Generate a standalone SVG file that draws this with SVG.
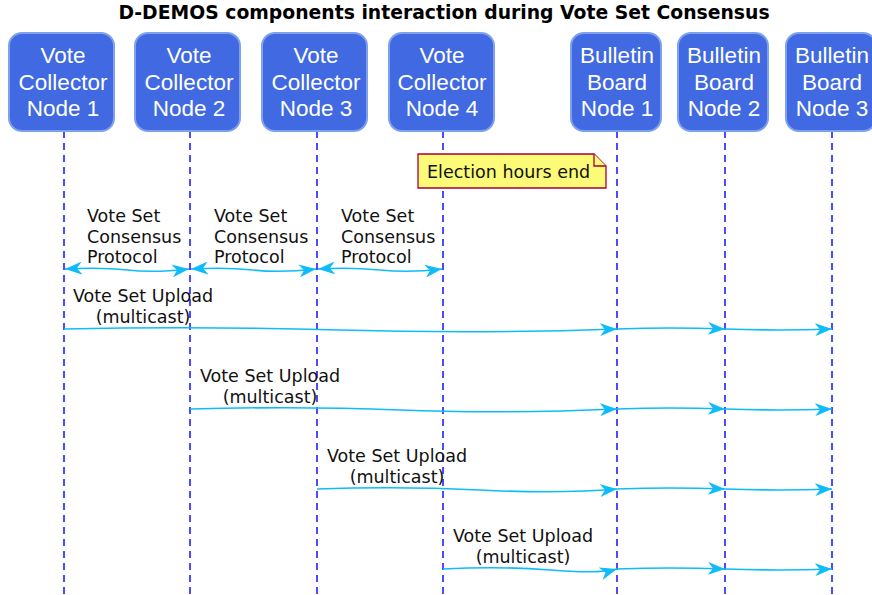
<svg xmlns="http://www.w3.org/2000/svg" width="872" height="595" viewBox="0 0 872 595">
<style>
.title{font-family:"DejaVu Sans",sans-serif;font-weight:bold;font-size:18.8px;fill:#000}
.box{fill:#4169E1;stroke:#7FA0EE;stroke-width:2}
.bt{font-family:"Liberation Sans",Arial,sans-serif;font-size:22.5px;fill:#fff;text-anchor:middle}
.life{stroke:#0000FF;stroke-width:1.4;stroke-dasharray:7 5;fill:none}
.lbl{font-family:"DejaVu Sans",sans-serif;font-size:17.5px;fill:#111}
.mid{text-anchor:middle}
.arr{stroke:#0FBCF9;stroke-width:1.6;fill:none}
.note{fill:#FBFB77;stroke:#A80036;stroke-width:1.3}
</style>
<defs>
<marker id="ah" viewBox="0 0 17 13" refX="17" refY="6.5" markerWidth="17" markerHeight="13" markerUnits="userSpaceOnUse" orient="auto-start-reverse">
<path d="M0,0 L17,6.5 L0,13 L5,6.5 Z" fill="#0FBCF9"/>
</marker>
</defs>
<text class="title" x="444" y="19" text-anchor="middle">D-DEMOS components interaction during Vote Set Consensus</text>
<g id="lifelines">
<line class="life" x1="64" y1="131" x2="64" y2="595"/>
<line class="life" x1="190" y1="131" x2="190" y2="595"/>
<line class="life" x1="317" y1="131" x2="317" y2="595"/>
<line class="life" x1="443" y1="131" x2="443" y2="595"/>
<line class="life" x1="617" y1="131" x2="617" y2="595"/>
<line class="life" x1="725" y1="131" x2="725" y2="595"/>
<line class="life" x1="832" y1="131" x2="832" y2="595"/>
</g>
<g id="vc1"><rect class="box" x="9" y="33" width="105" height="98" rx="13"/><text class="bt" x="63" y="63">Vote</text><text class="bt" x="63" y="90">Collector</text><text class="bt" x="63" y="116">Node 1</text></g>
<g id="vc2"><rect class="box" x="135" y="33" width="105" height="98" rx="13"/><text class="bt" x="189" y="63">Vote</text><text class="bt" x="189" y="90">Collector</text><text class="bt" x="189" y="116">Node 2</text></g>
<g id="vc3"><rect class="box" x="262" y="33" width="105" height="98" rx="13"/><text class="bt" x="316" y="63">Vote</text><text class="bt" x="316" y="90">Collector</text><text class="bt" x="316" y="116">Node 3</text></g>
<g id="vc4"><rect class="box" x="389" y="33" width="105" height="98" rx="13"/><text class="bt" x="442" y="63">Vote</text><text class="bt" x="442" y="90">Collector</text><text class="bt" x="442" y="116">Node 4</text></g>
<g id="bb1"><rect class="box" x="571" y="33" width="90" height="98" rx="13"/><text class="bt" x="617" y="63">Bulletin</text><text class="bt" x="617" y="90">Board</text><text class="bt" x="617" y="116">Node 1</text></g>
<g id="bb2"><rect class="box" x="678" y="33" width="90" height="98" rx="13"/><text class="bt" x="724" y="63">Bulletin</text><text class="bt" x="724" y="90">Board</text><text class="bt" x="724" y="116">Node 2</text></g>
<g id="bb3"><rect class="box" x="786" y="33" width="90" height="98" rx="13"/><text class="bt" x="832" y="63">Bulletin</text><text class="bt" x="832" y="90">Board</text><text class="bt" x="832" y="116">Node 3</text></g>
<g id="note">
<path class="note" d="M418,154 L594,154 L606,166 L606,188 L418,188 Z"/>
<path class="note" d="M594,154 L594,166 L606,166" fill="none"/>
<text class="lbl" x="427" y="178">Election hours end</text>
</g>
<g id="connectors">
<path class="arr" d="M65,269 Q100,267 127,270 T189,269" marker-start="url(#ah)" marker-end="url(#ah)"/>
<path class="arr" d="M191,269 Q225,267 253,270 T316,269" marker-start="url(#ah)" marker-end="url(#ah)"/>
<path class="arr" d="M318,269 Q350,267 380,270 T442,269" marker-start="url(#ah)" marker-end="url(#ah)"/>

<path class="arr" d="M64,329 Q200,326 340,330 T617,329" marker-end="url(#ah)"/>
<path class="arr" d="M617,329 Q670,327 725,329" marker-end="url(#ah)"/>
<path class="arr" d="M725,329 Q780,331 832,329" marker-end="url(#ah)"/>

<path class="arr" d="M190,409 Q300,406 400,410 T617,409" marker-end="url(#ah)"/>
<path class="arr" d="M617,409 Q670,407 725,409" marker-end="url(#ah)"/>
<path class="arr" d="M725,409 Q780,411 832,409" marker-end="url(#ah)"/>

<path class="arr" d="M317,489 Q400,486 480,490 T617,489" marker-end="url(#ah)"/>
<path class="arr" d="M617,489 Q670,487 725,489" marker-end="url(#ah)"/>
<path class="arr" d="M725,489 Q780,491 832,489" marker-end="url(#ah)"/>

<path class="arr" d="M443,569 Q500,566 550,570 T617,569" marker-end="url(#ah)"/>
<path class="arr" d="M617,569 Q670,567 725,569" marker-end="url(#ah)"/>
<path class="arr" d="M725,569 Q780,571 832,569" marker-end="url(#ah)"/>
</g>
<g id="labels">
<text class="lbl" x="87" y="222">Vote Set</text><text class="lbl" x="87" y="243">Consensus</text><text class="lbl" x="87" y="263">Protocol</text>
<text class="lbl" x="214" y="222">Vote Set</text><text class="lbl" x="214" y="243">Consensus</text><text class="lbl" x="214" y="263">Protocol</text>
<text class="lbl" x="341" y="222">Vote Set</text><text class="lbl" x="341" y="243">Consensus</text><text class="lbl" x="341" y="263">Protocol</text>
<text class="lbl mid" x="143" y="302">Vote Set Upload</text><text class="lbl mid" x="143" y="323">(multicast)</text>
<text class="lbl mid" x="270" y="382">Vote Set Upload</text><text class="lbl mid" x="270" y="403">(multicast)</text>
<text class="lbl mid" x="397" y="462">Vote Set Upload</text><text class="lbl mid" x="397" y="483">(multicast)</text>
<text class="lbl mid" x="523" y="542">Vote Set Upload</text><text class="lbl mid" x="523" y="563">(multicast)</text>
</g>
</svg>
